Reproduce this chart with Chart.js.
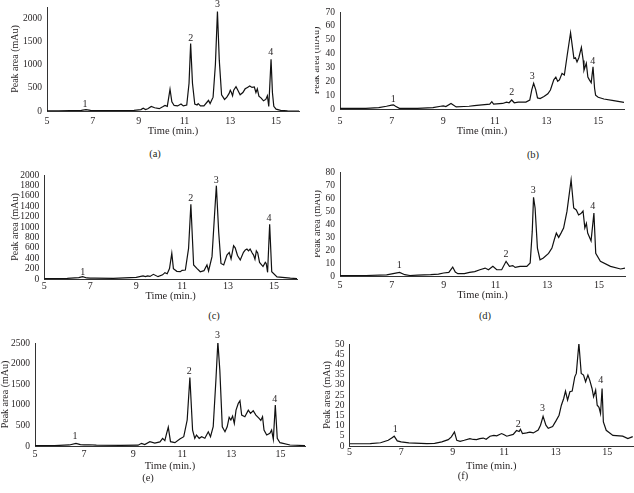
<!DOCTYPE html>
<html>
<head>
<meta charset="utf-8">
<script src="https://cdn.jsdelivr.net/npm/chart.js@4.4.1/dist/chart.umd.min.js"></script>
<style>
  body { margin: 0; background: #fff; }
  #page { position: relative; width: 634px; height: 493px; overflow: hidden; background: #fff; }
  .box { position: absolute; }
  .clip { position: absolute; overflow: hidden; }
  .cap { position: absolute; font: 10.5px "Liberation Serif", serif; color: #231f20; transform: translate(-50%, -50%); }
</style>
</head>
<body>
<div id="page"></div>
<script>
// shared axes
const xTicks = [5, 7, 9, 11, 13, 15];

// (a)
const timesA = [5.0, 5.5, 6.0, 6.5, 6.7, 6.9, 7.2, 8.0, 8.8, 9.1, 9.2, 9.3, 9.4, 9.55, 9.7, 9.9, 10.05, 10.15, 10.25, 10.3, 10.37, 10.45, 10.55, 10.7, 10.85, 10.95, 11.1, 11.2, 11.27, 11.35, 11.45, 11.55, 11.6, 11.7, 11.85, 12.0, 12.05, 12.12, 12.25, 12.35, 12.44, 12.52, 12.62, 12.75, 12.85, 12.95, 13.0, 13.05, 13.1, 13.15, 13.25, 13.32, 13.43, 13.55, 13.65, 13.75, 13.85, 13.95, 14.05, 14.12, 14.18, 14.25, 14.35, 14.45, 14.55, 14.62, 14.68, 14.72, 14.78, 14.84, 14.9, 15.0, 15.2, 15.5, 16.0];
const valuesA = [5, 5, 8, 15, 30, 15, 10, 8, 15, 30, 60, 30, 50, 100, 70, 50, 90, 120, 100, 250, 470, 200, 120, 110, 150, 110, 130, 600, 1460, 600, 150, 130, 160, 110, 110, 200, 230, 160, 300, 1000, 2150, 1100, 350, 250, 300, 380, 450, 400, 330, 450, 525, 460, 350, 400, 480, 510, 540, 510, 520, 400, 480, 320, 280, 220, 250, 330, 100, 500, 1120, 400, 100, 40, 15, 5, 0];
const yTicksA = [0, 500, 1000, 1500, 2000];
const peaksA = [[6.66, 145], [11.27, 1570], [12.44, 2311], [14.77, 1268]];

// (b)
const timesB = [5.0, 6.0, 6.5, 6.8, 7.0, 7.07, 7.15, 7.3, 8.0, 8.6, 8.9, 9.0, 9.1, 9.3, 9.5, 9.8, 10.0, 10.2, 10.5, 10.8, 10.88, 10.95, 11.3, 11.45, 11.55, 11.65, 11.75, 11.9, 12.2, 12.35, 12.43, 12.5, 12.58, 12.65, 12.75, 12.9, 13.05, 13.15, 13.28, 13.36, 13.43, 13.5, 13.6, 13.69, 13.8, 13.93, 14.0, 14.06, 14.12, 14.18, 14.25, 14.35, 14.42, 14.45, 14.54, 14.6, 14.66, 14.73, 14.8, 14.86, 14.9, 15.0, 15.22, 15.6, 16.0];
const valuesB = [0.5, 0.5, 1, 2, 2.8, 3, 2, 0.5, 0.5, 1, 2, 2.2, 1.8, 4, 1.5, 1.8, 2, 2.5, 3, 3.5, 5.3, 3.5, 4, 5, 4.5, 6.5, 4.5, 5, 5, 6.5, 14, 18.5, 14, 8, 7.5, 9, 11, 13.7, 21, 23, 20, 21, 25.7, 24.5, 38.8, 55, 45, 36.5, 37, 34, 37, 44.5, 35, 28, 33, 23, 21, 19, 30.4, 15, 10, 8.5, 7.2, 6, 4.8];
const yTicksB = [0, 10, 20, 30, 40, 50, 60, 70];
const peaksB = [[7.06, 7.2], [11.65, 11.7], [12.45, 23.2], [14.79, 34.5]];

// (c)
const timesC = [5.0, 6.0, 6.5, 6.67, 6.85, 7.0, 7.2, 8.0, 8.5, 9.0, 9.3, 9.4, 9.5, 9.6, 9.75, 9.95, 10.15, 10.25, 10.35, 10.45, 10.55, 10.62, 10.77, 10.92, 11.0, 11.14, 11.28, 11.38, 11.5, 11.64, 11.79, 11.95, 12.08, 12.15, 12.3, 12.41, 12.49, 12.59, 12.69, 12.81, 12.95, 13.05, 13.13, 13.24, 13.31, 13.41, 13.53, 13.67, 13.75, 13.82, 13.89, 13.96, 14.05, 14.11, 14.17, 14.23, 14.29, 14.37, 14.52, 14.62, 14.66, 14.72, 14.81, 14.9, 15.13, 15.71, 16.0];
const valuesC = [10, 12, 25, 45, 20, 15, 18, 12, 20, 32, 58, 45, 60, 50, 90, 45, 80, 122, 100, 200, 494, 200, 148, 140, 167, 173, 590, 1436, 270, 205, 140, 160, 270, 154, 430, 1230, 1795, 910, 300, 270, 460, 512, 385, 640, 600, 452, 365, 512, 560, 577, 540, 577, 500, 460, 380, 540, 500, 320, 240, 320, 300, 128, 1052, 140, 40, 15, 8];
const yTicksC = [0, 200, 400, 600, 800, 1000, 1200, 1400, 1600, 1800, 2000];
const peaksC = [[6.67, 121], [11.38, 1552], [12.48, 1904], [14.78, 1167]];

// (d)
const timesD = [5.0, 6.0, 6.8, 7.1, 7.3, 7.5, 7.7, 8.0, 8.5, 8.8, 9.0, 9.2, 9.35, 9.45, 9.55, 9.8, 10.0, 10.2, 10.4, 10.6, 10.73, 10.9, 11.05, 11.24, 11.41, 11.54, 11.67, 11.76, 11.95, 12.21, 12.34, 12.42, 12.47, 12.53, 12.62, 12.72, 12.85, 13.05, 13.18, 13.27, 13.35, 13.44, 13.53, 13.63, 13.76, 13.92, 14.02, 14.12, 14.21, 14.3, 14.38, 14.45, 14.51, 14.56, 14.69, 14.8, 14.87, 15.05, 15.44, 15.83, 16.0];
const valuesD = [0.3, 0.4, 0.8, 2, 2.8, 1, 0.4, 0.6, 1, 1.5, 2.3, 2.8, 6.9, 3, 1.8, 1.8, 2.8, 3.4, 4.8, 6.1, 4.8, 7.4, 4.8, 4.8, 11.3, 7.4, 8, 6.6, 7.4, 7.4, 10, 34.3, 60.5, 52.3, 21.5, 12.5, 13.8, 17.4, 21.5, 27.9, 33, 29.7, 33, 36.9, 49.7, 74, 52.3, 50.8, 47, 48, 50, 37, 40.5, 33, 27, 48.4, 17.4, 11.3, 7.4, 5.4, 6];
const yTicksD = [0, 10, 20, 30, 40, 50, 60, 70, 80];
const peaksD = [[7.29, 7.9], [11.41, 16.4], [12.46, 65.6], [14.76, 53.5]];

// (e)
const timesE = [5.0, 5.8, 6.4, 6.67, 6.85, 7.0, 7.2, 7.5, 8.5, 9.2, 9.34, 9.47, 9.68, 9.88, 10.09, 10.2, 10.29, 10.36, 10.43, 10.52, 10.7, 10.9, 11.06, 11.2, 11.31, 11.42, 11.51, 11.58, 11.69, 11.79, 11.92, 12.06, 12.15, 12.26, 12.37, 12.45, 12.53, 12.63, 12.74, 12.83, 12.91, 12.98, 13.05, 13.12, 13.19, 13.28, 13.35, 13.42, 13.55, 13.69, 13.78, 13.89, 14.0, 14.13, 14.2, 14.27, 14.33, 14.44, 14.57, 14.64, 14.71, 14.79, 14.87, 14.98, 15.39, 16.0];
const valuesE = [8, 10, 25, 65, 35, 25, 30, 20, 15, 20, 65, 35, 105, 70, 100, 185, 130, 300, 455, 105, 80, 170, 225, 630, 1662, 387, 186, 266, 186, 225, 190, 346, 225, 467, 1597, 2525, 1839, 467, 346, 467, 694, 629, 726, 549, 871, 1033, 1097, 750, 710, 871, 791, 855, 750, 670, 620, 710, 387, 266, 306, 387, 162, 992, 186, 80, 24, 10];
const yTicksE = [0, 500, 1000, 1500, 2000, 2500];
const peaksE = [[6.63, 242], [11.28, 1822], [12.44, 2686], [14.77, 1130]];

// (f)
const timesF = [5.0, 5.8, 6.2, 6.5, 6.65, 6.73, 6.85, 7.0, 7.3, 8.0, 8.3, 8.58, 8.83, 8.95, 9.07, 9.16, 9.29, 9.45, 9.67, 9.8, 9.93, 10.05, 10.19, 10.3, 10.45, 10.6, 10.71, 10.9, 11.0, 11.1, 11.35, 11.48, 11.58, 11.63, 11.71, 11.87, 12.0, 12.13, 12.32, 12.41, 12.51, 12.62, 12.71, 12.88, 13.01, 13.13, 13.22, 13.31, 13.38, 13.46, 13.55, 13.64, 13.74, 13.8, 13.9, 13.99, 14.08, 14.16, 14.25, 14.32, 14.41, 14.47, 14.55, 14.61, 14.68, 14.74, 14.8, 14.85, 14.96, 15.22, 15.6, 15.8, 15.99];
const valuesF = [1.1, 1.2, 1.6, 2.8, 4.1, 4.8, 2.5, 2, 1.5, 1.2, 1.3, 2, 3.1, 4.5, 6.9, 2.8, 2.3, 2.8, 3.6, 3.2, 3.1, 3.6, 3.9, 3.3, 4.8, 5.2, 5.0, 6.1, 5.5, 4.8, 5.7, 7.6, 7.1, 8.2, 6.1, 6.4, 6.8, 6.4, 7.8, 10.2, 14.6, 10.2, 8.7, 9.5, 12.3, 15.1, 20, 23.3, 26.9, 22.5, 26.6, 26.9, 33.9, 35.6, 50.3, 35.6, 34.8, 31.5, 34.8, 32.3, 28.2, 24.1, 27.4, 20, 19, 15.9, 28.2, 11.8, 7.7, 5.2, 4.8, 3.6, 4.6];
const yTicksF = [0, 5, 10, 15, 20, 25, 30, 35, 40, 45, 50];
const peaksF = [[6.77, 8.1], [11.55, 10.7], [12.49, 18.4], [14.75, 32.3]];

const peakNames = ["1", "2", "3", "4"];
const serif = '"Liberation Serif", "Times New Roman", serif';
const ink = "#231f20";

// peak numbers above the chromatogram
const peakLabelPlugin = {
    id: "peakLabels",
    afterDatasetsDraw(chart, args, opts) {
        const ctx = chart.ctx;
        ctx.save();
        ctx.font = "10px " + serif;
        ctx.fillStyle = ink;
        ctx.textAlign = "center";
        ctx.textBaseline = "middle";
        opts.peaks.forEach((p, i) => {
            const x = chart.scales.x.getPixelForValue(p[0]);
            const y = chart.scales.y.getPixelForValue(p[1]);
            ctx.fillText(peakNames[i], x, y);
        });
        ctx.restore();
    }
};

function panel(p) {
    const page = document.getElementById("page");
    const padT = 14, padR = 6;
    const w = Math.round(p.R - p.L + p.yW + padR);
    const h = Math.round(p.B - p.T + padT + p.xH);
    let left = p.L - p.yW, top = p.T - padT;
    let holder = page;
    if (p.clipX !== undefined) {
        holder = document.createElement("div");
        holder.className = "clip";
        holder.style.left = p.clipX + "px";
        holder.style.top = top + "px";
        holder.style.width = (634 - p.clipX) + "px";
        holder.style.height = h + "px";
        page.appendChild(holder);
        left = left - p.clipX;
        top = 0;
    }
    const box = document.createElement("div");
    box.className = "box";
    box.style.left = left + "px";
    box.style.top = top + "px";
    const canvas = document.createElement("canvas");
    canvas.width = w;
    canvas.height = h;
    box.appendChild(canvas);
    holder.appendChild(box);

    const cap = document.createElement("div");
    cap.className = "cap";
    cap.textContent = p.caption;
    cap.style.left = p.capX + "px";
    cap.style.top = p.capY + "px";
    page.appendChild(cap);

    new Chart(canvas, {
        type: "line",
        data: {
            datasets: [{
                data: p.times.map((t, i) => ({ x: t, y: p.values[i] })),
                borderColor: "#111",
                borderWidth: 1.2,
                pointRadius: 0,
                tension: 0,
                fill: false
            }]
        },
        options: {
            responsive: false,
            animation: false,
            devicePixelRatio: 1,
            layout: { padding: { top: padT, right: padR, left: 0, bottom: 0 } },
            plugins: {
                legend: { display: false },
                tooltip: { enabled: false },
                peakLabels: { peaks: p.peaks }
            },
            scales: {
                x: {
                    type: "linear",
                    min: 5,
                    max: 16,
                    afterBuildTicks: s => { s.ticks = xTicks.map(v => ({ value: v })); },
                    afterFit: s => { s.height = p.xH; },
                    grid: { display: false, drawTicks: false },
                    border: { display: true, color: "#333", width: 1 },
                    ticks: { color: ink, padding: p.xPad, autoSkip: false, maxRotation: 0,
                             callback: v => String(v), font: { family: serif, size: 10, weight: "normal" } },
                    title: { display: true, text: "Time (min.)", color: ink, padding: 0,
                             font: { family: serif, size: 10.5, weight: "normal" } }
                },
                y: {
                    min: 0,
                    max: p.yMax,
                    afterBuildTicks: s => { s.ticks = p.yTicks.map(v => ({ value: v })); },
                    afterFit: s => { s.width = p.yW; },
                    grid: { display: false, drawTicks: false },
                    border: { display: true, color: "#333", width: 1 },
                    ticks: { color: ink, padding: 5, autoSkip: false,
                             callback: v => String(v), font: { family: serif, size: 9.5, weight: "normal" } },
                    title: { display: true, text: "Peak area (mAu)", color: ink, padding: 0,
                             font: { family: serif, size: 10, weight: "normal" } }
                }
            }
        },
        plugins: [peakLabelPlugin]
    });
}

panel({ times: timesA, values: valuesA, yTicks: yTicksA, yMax: 2250, peaks: peaksA,
        L: 47, R: 299, T: 6.7, B: 111, yW: 38, xH: 27, xPad: 4.5, caption: "(a)", capX: 155, capY: 153 });
panel({ times: timesB, values: valuesB, yTicks: yTicksB, yMax: 70, peaks: peaksB,
        L: 340, R: 624, T: 11.7, B: 109, yW: 30, xH: 29, xPad: 6, clipX: 315, caption: "(b)", capX: 533, capY: 154 });
panel({ times: timesC, values: valuesC, yTicks: yTicksC, yMax: 2000, peaks: peaksC,
        L: 44.3, R: 296.7, T: 175, B: 279, yW: 35.3, xH: 24, xPad: 1.5, caption: "(c)", capX: 214, capY: 315 });
panel({ times: timesD, values: valuesD, yTicks: yTicksD, yMax: 80, peaks: peaksD,
        L: 340, R: 625, T: 172.3, B: 276.3, yW: 29, xH: 26, xPad: 3, clipX: 315, caption: "(d)", capX: 485, capY: 315 });
panel({ times: timesE, values: valuesE, yTicks: yTicksE, yMax: 2500, peaks: peaksE,
        L: 35, R: 305.3, T: 342.7, B: 446, yW: 36, xH: 27, xPad: 2, caption: "(e)", capX: 148, capY: 477 });
panel({ times: timesF, values: valuesF, yTicks: yTicksF, yMax: 50, peaks: peaksF,
        L: 349.3, R: 633, T: 344, B: 445.7, yW: 28.6, xH: 27, xPad: 0.5, caption: "(f)", capX: 463, capY: 475 });
</script>
</body>
</html>
